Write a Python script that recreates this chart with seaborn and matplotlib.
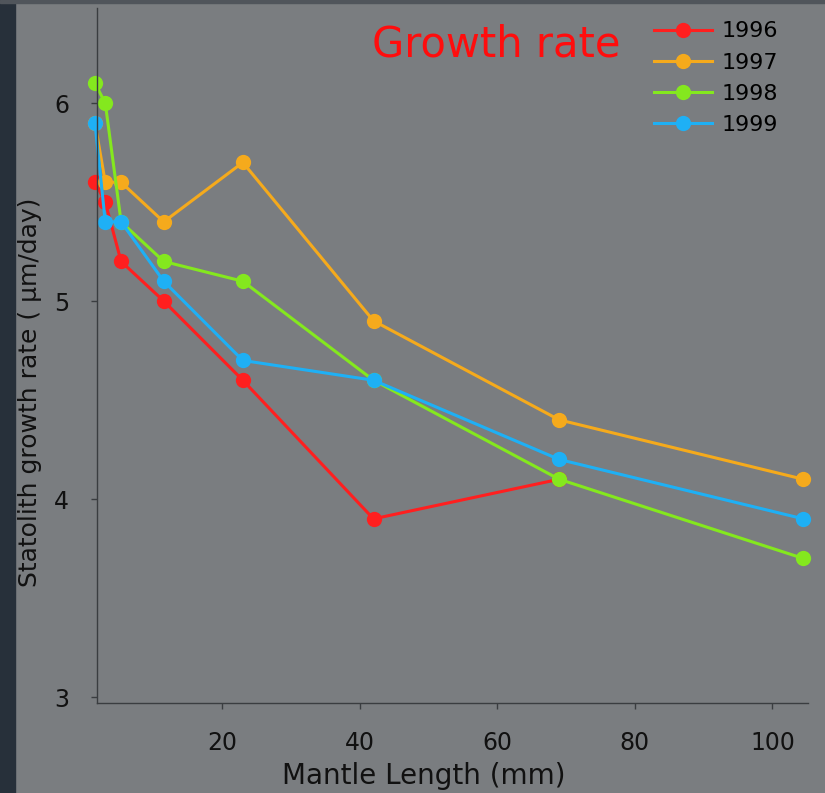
import pandas as pd
import matplotlib
matplotlib.use("Agg")
import matplotlib.pyplot as plt
import seaborn as sns
from matplotlib.patches import Rectangle

# Datos
anios = ['1996', '1997', '1998', '1999']
ml_1996 = [1.5, 3, 5.3, 11.5, 23, 42, 69]
rate_1996 = [5.6, 5.5, 5.2, 5.0, 4.6, 3.9, 4.1]
ml_1997 = [1.5, 3, 5.3, 11.5, 23, 42, 69, 104.5]
rate_1997 = [5.9, 5.6, 5.6, 5.4, 5.7, 4.9, 4.4, 4.1]
ml_1998 = [1.5, 3, 5.3, 11.5, 23, 42, 69, 104.5]
rate_1998 = [6.1, 6.0, 5.4, 5.2, 5.1, 4.6, 4.1, 3.7]
ml_1999 = [1.5, 3, 5.3, 11.5, 23, 42, 69, 104.5]
rate_1999 = [5.9, 5.4, 5.4, 5.1, 4.7, 4.6, 4.2, 3.9]
colores = ['#ff1f1f', '#f5aa1c', '#84e81e', '#1eb0f5']

df = pd.concat([
    pd.DataFrame({'ml': ml_1996, 'rate': rate_1996, 'year': '1996'}),
    pd.DataFrame({'ml': ml_1997, 'rate': rate_1997, 'year': '1997'}),
    pd.DataFrame({'ml': ml_1998, 'rate': rate_1998, 'year': '1998'}),
    pd.DataFrame({'ml': ml_1999, 'rate': rate_1999, 'year': '1999'}),
], ignore_index=True)

gris = '#7a7d80'
fig = plt.figure(figsize=(8.25, 7.93), dpi=100, facecolor=gris)
ax = fig.add_axes([0.1176, 0.1135, 0.862, 0.8764])
ax.set_facecolor(gris)

# franja oscura a la izquierda y borde superior
fig.patches.append(Rectangle((0, 0), 15 / 825, 1, transform=fig.transFigure,
                             color='#27303a', zorder=0))
fig.patches.append(Rectangle((0, 1 - 3 / 793), 1, 3 / 793, transform=fig.transFigure,
                             color='#50555b', zorder=0))

sns.lineplot(data=df, x='ml', y='rate', hue='year', hue_order=anios,
             palette=colores, marker='o', markersize=11, markeredgewidth=0,
             linewidth=2.2, sort=False, estimator=None, ax=ax, clip_on=False)

ax.set_xlim(1.8, 105.2)
ax.set_ylim(2.97, 6.48)
ax.set_xticks([20, 40, 60, 80, 100])
ax.set_yticks([3, 4, 5, 6])

for s in ['top', 'right']:
    ax.spines[s].set_visible(False)
for s in ['left', 'bottom']:
    ax.spines[s].set_color('#3a3d40')
    ax.spines[s].set_linewidth(1)
ax.tick_params(axis='both', direction='out', length=4, width=1, color='#3a3d40',
               labelcolor='#111111', labelsize=17)
ax.tick_params(axis='x', pad=16)
ax.tick_params(axis='y', pad=16)

ax.set_xlabel('Mantle Length (mm)', fontsize=20, color='#111111')
ax.set_ylabel('Statolith growth rate ( µm/day)', fontsize=18, color='#111111')
ax.xaxis.set_label_coords(0.46, -0.085)
ax.yaxis.set_label_coords(-0.077, 0.447)

ax.text(0.387, 0.948, 'Growth rate', transform=ax.transAxes, color='#ff0d0d',
        fontsize=30, ha='left', va='center')

sns.move_legend(ax, 'upper left', bbox_to_anchor=(0.793, 0.973),
                bbox_transform=fig.transFigure, frameon=False, title=None,
                fontsize=16, handlelength=2.6, handletextpad=0.45,
                labelspacing=0.5, borderpad=0, borderaxespad=0)

plt.savefig('out.png', dpi=100, facecolor=gris)
plt.close()
